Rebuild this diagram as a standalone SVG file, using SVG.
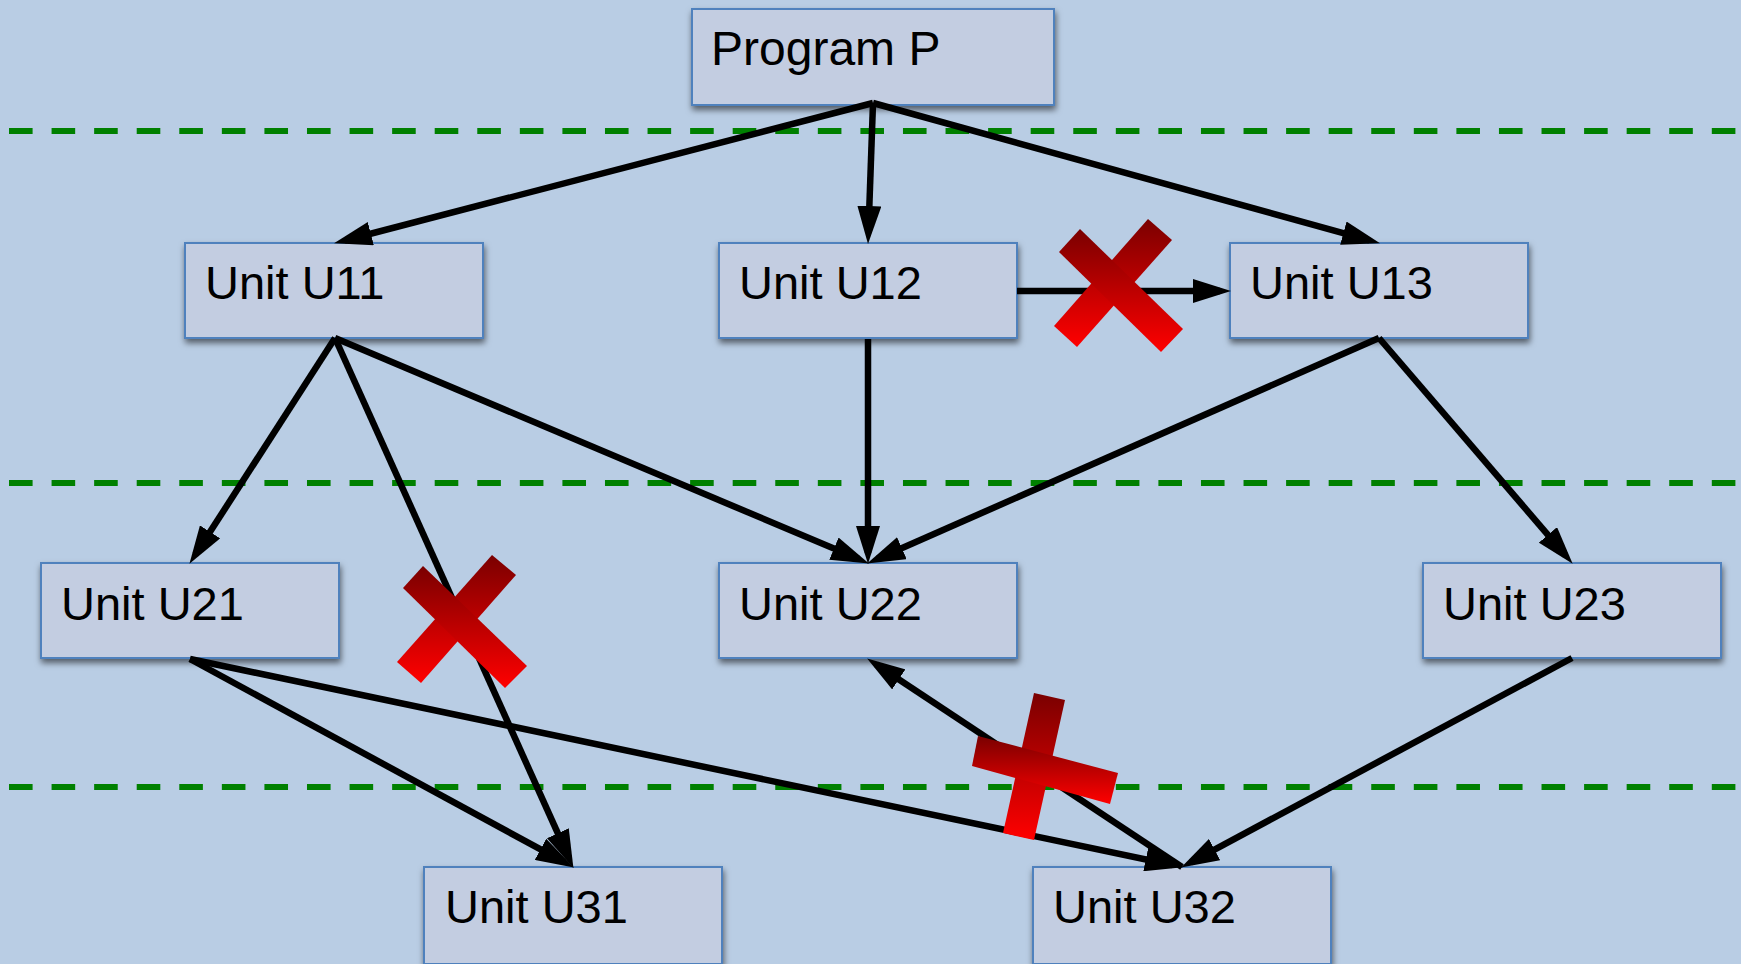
<svg xmlns="http://www.w3.org/2000/svg" width="1741" height="964" viewBox="0 0 1741 964">
<defs>
<style>
.box{fill:#c3cde1;stroke:#4f81bd;stroke-width:2;filter:url(#sh)}
.lbl{font-family:"Liberation Sans",Arial,sans-serif;font-size:47px;fill:#000}
.dash{stroke:#008000;stroke-width:6;stroke-dasharray:23.6 18.97;fill:none}
.edge{stroke:#000;stroke-width:6.5;fill:none;marker-end:url(#ah)}
.x{fill:url(#rg)}
</style>
<filter id="sh" x="-10%" y="-10%" width="120%" height="130%">
<feDropShadow dx="1" dy="4" stdDeviation="3" flood-color="#000" flood-opacity="0.55"/>
</filter>
<linearGradient id="rg" x1="0" y1="0" x2="0" y2="1">
<stop offset="0" stop-color="#7a0000"/>
<stop offset="1" stop-color="#ff0000"/>
</linearGradient>
<marker id="ah" markerUnits="userSpaceOnUse" markerWidth="38" markerHeight="24" refX="27" refY="12" orient="auto">
<path d="M0,0 L38,12 L0,24 z" fill="#000"/>
</marker>
</defs>
<rect x="0" y="0" width="1741" height="964" fill="#b9cde4"/>
<g id="levels">
<line class="dash" x1="9" y1="131" x2="1741" y2="131"/>
<line class="dash" x1="9" y1="483" x2="1741" y2="483"/>
<line class="dash" x1="9" y1="787" x2="1741" y2="787"/>
</g>
<g id="P"><rect class="box" x="692" y="9" width="362" height="96"/><text class="lbl" x="711" y="65" style="font-size:48px">Program P</text></g>
<g id="U11"><rect class="box" x="185" y="243" width="298" height="95"/><text class="lbl" x="205" y="299">Unit U11</text></g>
<g id="U12"><rect class="box" x="719" y="243" width="298" height="95"/><text class="lbl" x="739" y="299">Unit U12</text></g>
<g id="U13"><rect class="box" x="1230" y="243" width="298" height="95"/><text class="lbl" x="1250" y="299">Unit U13</text></g>
<g id="U21"><rect class="box" x="41" y="563" width="298" height="95"/><text class="lbl" x="61" y="620">Unit U21</text></g>
<g id="U22"><rect class="box" x="719" y="563" width="298" height="95"/><text class="lbl" x="739" y="620">Unit U22</text></g>
<g id="U23"><rect class="box" x="1423" y="563" width="298" height="95"/><text class="lbl" x="1443" y="620">Unit U23</text></g>
<g id="U31"><rect class="box" x="424" y="867" width="298" height="97"/><text class="lbl" x="445" y="923">Unit U31</text></g>
<g id="U32"><rect class="box" x="1033" y="867" width="298" height="97"/><text class="lbl" x="1053" y="923">Unit U32</text></g>
<g id="connectors">
<line class="edge" x1="873" y1="103" x2="344.7" y2="240.5"/>
<line class="edge" x1="873" y1="103" x2="868.4" y2="233"/>
<line class="edge" x1="873" y1="103" x2="1369.4" y2="240.3"/>
<line class="edge" x1="335" y1="338" x2="195.4" y2="554.6"/>
<line class="edge" x1="335" y1="338" x2="568.9" y2="857.9"/>
<line class="edge" x1="335" y1="338" x2="858.8" y2="559.1"/>
<line class="edge" x1="868" y1="339" x2="868" y2="553"/>
<line class="edge" x1="1017" y1="291" x2="1220" y2="291"/>
<line class="edge" x1="1379" y1="338" x2="877.2" y2="559"/>
<line class="edge" x1="1379" y1="338" x2="1565.5" y2="555.4"/>
<line class="edge" x1="190" y1="659" x2="564.2" y2="862.2"/>
<line class="edge" x1="190" y1="659" x2="1172.2" y2="865"/>
<line class="edge" x1="1182" y1="867" x2="876.3" y2="664.5"/>
<line class="edge" x1="1572" y1="658" x2="1190.8" y2="862.3"/>
</g>
<g id="cross1">
<polygon class="x" points="1148,219 1172,240 1077,347 1054,326"/>
<polygon class="x" points="1080,229 1183,329 1161,352 1059,252"/>
</g>
<g id="cross2">
<polygon class="x" points="492,555 516,575 421,683 397,662"/>
<polygon class="x" points="423,566 527,666 505,688 403,588"/>
</g>
<g id="cross3">
<polygon class="x" points="1034,693 1065,700 1034,840 1003,833"/>
<polygon class="x" points="978,736 1118,773 1110,804 972,766"/>
</g>
</svg>
